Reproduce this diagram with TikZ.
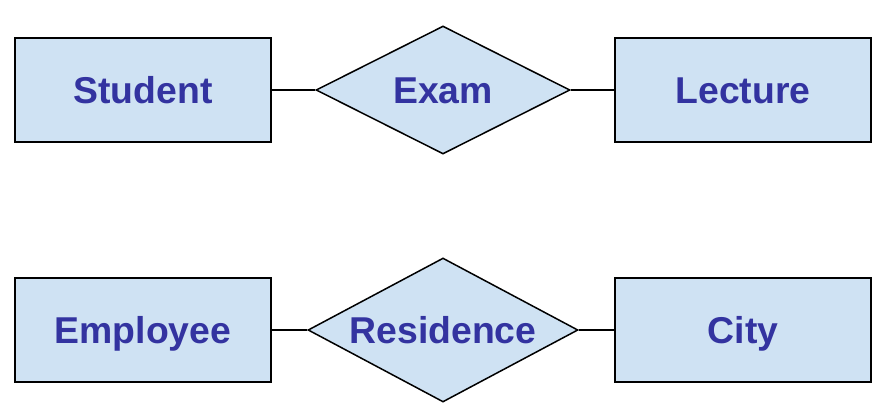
\documentclass[tikz,border=0pt]{standalone}
\usepackage{fontspec}
\setmainfont{Liberation Sans}
\usetikzlibrary{shapes.geometric}
\definecolor{fillblue}{HTML}{CFE2F3}
\definecolor{textblue}{HTML}{3333A0}
\begin{document}
\begin{tikzpicture}[x=1bp,y=-1bp,
  entity/.style={draw=black,line width=2bp,fill=fillblue,rectangle,
    minimum width=256bp,minimum height=104bp,inner sep=0pt,
    text height=27bp,text depth=0pt,
    font=\fontsize{37.5}{40}\selectfont\bfseries,text=textblue},
  relation/.style={draw=black,line width=1.5bp,fill=fillblue,diamond,inner sep=0pt,
    text height=27bp,text depth=0pt,
    font=\fontsize{37.5}{40}\selectfont\bfseries,text=textblue},
  conn/.style={draw=black,line width=2.5bp}]
\useasboundingbox (0,0) rectangle (878,403);
\node[entity] (student) at (143,90) {Student};
\node[entity] (lecture) at (743,90) {Lecture};
\node[relation,aspect=1.984,minimum width=254bp,minimum height=128bp] (exam) at (443,90) {Exam};
\node[entity] (employee) at (143,330) {Employee};
\node[entity] (city) at (743,330) {City};
\node[relation,aspect=1.875,minimum width=270bp,minimum height=144bp] (residence) at (443,330) {Residence};
\draw[conn] (student.east) -- (exam.west);
\draw[conn] (exam.east) -- (lecture.west);
\draw[conn] (employee.east) -- (residence.west);
\draw[conn] (residence.east) -- (city.west);
\end{tikzpicture}
\end{document}
